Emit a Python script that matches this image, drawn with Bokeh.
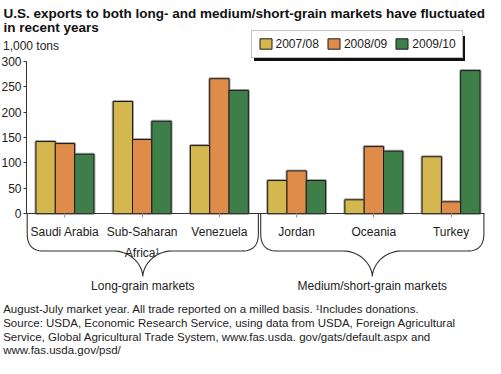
import numpy as np
from bokeh.plotting import figure
from bokeh.models import (Range1d, FixedTicker, Label, Legend, LegendItem,
                          BoxAnnotation, ColumnDataSource)
from bokeh.transform import dodge
from bokeh.embed import file_html
from bokeh.resources import INLINE

# ---------------- data ----------------
countries = ["Saudi Arabia", "Sub-Saharan\nAfrica\u00b9", "Venezuela", "Jordan", "Oceania", "Turkey"]
years = ["2007/08", "2008/09", "2009/10"]
v_2007_08 = [142, 221, 134, 65, 27, 112]
v_2008_09 = [138, 146, 266, 84, 132, 23]
v_2009_10 = [117, 182, 243, 65, 123, 282]
groups = ["Long-grain markets", "Medium/short-grain markets"]
y_ticks = [0, 50, 100, 150, 200, 250, 300]
colors = ["#D4B74F", "#DF8C4A", "#3E7F49"]

title_lines = ["U.S. exports to both long- and medium/short-grain markets have fluctuated",
               "in recent years"]
unit_text = "1,000 tons"
notes = ["August-July market year. All trade reported on a milled basis. \u00b9Includes donations.",
         "Source: USDA, Economic Research Service, using data from USDA, Foreign Agricultural",
         "Service, Global Agricultural Trade System, www.fas.usda. gov/gats/default.aspx and",
         "www.fas.usda.gov/psd/"]

# ---------------- layout (canvas pixels) ----------------
W, H = 485, 358
AX_L, AX_R, AX_T, AX_B = 26, 484, 61, 213      # plotting area of the bars
XR0, XR1 = -0.498, 5.433                       # category extent
KX = (AX_R - AX_L) / (XR1 - XR0)               # px per category unit
KY = (AX_B - AX_T) / 300.0                     # px per 1,000 tons
FONT = "Liberation Sans"
TXT = "11.5px"
LDY = 1.5                                      # text baseline correction


def dx(px):
    return XR0 + (px - AX_L) / KX


def dy(py):
    return (AX_B - py) / KY


def ty(py):
    return dy(py - LDY)


xpos = list(range(len(countries)))
src = ColumnDataSource(dict(x=xpos, a=v_2007_08, b=v_2008_09, c=v_2009_10))

p = figure(width=W, height=H, output_backend="svg", toolbar_location=None,
           x_range=Range1d(dx(0), dx(W)), y_range=Range1d(dy(H), dy(0)),
           min_border=0, outline_line_color=None)
p.xgrid.grid_line_color = None
p.ygrid.grid_line_color = None

bw = 0.25
renderers = []
for off, col in zip([-bw, 0, bw], ["a", "b", "c"]):
    p.vbar(x=dodge("x", off), top=col, width=bw, bottom=0, source=src,
           fill_color=None, line_color="#a8a8a8", line_width=3)
for off, col, color in zip([-bw, 0, bw], ["a", "b", "c"], colors):
    r = p.vbar(x=dodge("x", off), top=col, width=bw, bottom=0, source=src,
               fill_color=color, line_color="#1a1a1a", line_width=1)
    renderers.append(r)

# axes
ya = p.yaxis[0]
ya.fixed_location = XR0
ya.bounds = (0, 300)
ya.ticker = FixedTicker(ticks=y_ticks)
ya.axis_line_color = "#333333"
ya.major_tick_line_color = "#333333"
ya.major_tick_out = 3
ya.major_tick_in = 0
ya.minor_tick_line_color = None
ya.major_label_standoff = 2
ya.major_label_text_font = FONT
ya.major_label_text_font_size = "12px"
ya.major_label_text_color = "#222222"

xa = p.xaxis[0]
xa.fixed_location = 0
xa.bounds = (XR0, XR1)
xa.ticker = FixedTicker(ticks=xpos)
xa.major_label_overrides = {i: c for i, c in enumerate(countries)}
xa.axis_line_color = "#333333"
xa.major_tick_line_color = "#999999"
xa.major_tick_out = 4
xa.major_tick_in = 0
xa.minor_tick_line_color = None
xa.major_label_standoff = 7
xa.major_label_text_font = FONT
xa.major_label_text_font_size = "12px"
xa.major_label_text_color = "#222222"
xa.major_label_text_line_height = 1.5


# braces under the two market groups
def brace(x0, x1):
    xm = (x0 + x1) / 2
    y1, yc, yp = dy(AX_B + 20), dy(AX_B + 37.5), dy(AX_B + 63)
    r = 16 / KX
    depth = yp - yc
    t = np.linspace(0, 1, 16)
    xs, ys = [x0], [0.0]
    qx = (1 - t) ** 2 * x0 + 2 * (1 - t) * t * x0 + t ** 2 * (x0 + r)
    qy = (1 - t) ** 2 * y1 + 2 * (1 - t) * t * yc + t ** 2 * yc
    xs += list(qx); ys += list(qy)
    p0 = (xm - 29 / KX, yc)
    p1 = (xm - 13 / KX, yc)
    p2 = (xm - 0.5 / KX, yc + depth * 0.5)
    p3 = (xm, yp)
    cx = (1 - t) ** 3 * p0[0] + 3 * (1 - t) ** 2 * t * p1[0] + 3 * (1 - t) * t ** 2 * p2[0] + t ** 3 * p3[0]
    cy = (1 - t) ** 3 * p0[1] + 3 * (1 - t) ** 2 * t * p1[1] + 3 * (1 - t) * t ** 2 * p2[1] + t ** 3 * p3[1]
    xs += list(cx); ys += list(cy)
    mx = [2 * xm - v for v in xs[::-1]]
    my = ys[::-1]
    return xs + mx[1:], ys + my[1:], xm


brace_spans = [(-0.489, 2.505), (2.535, 5.425)]
for (b0, b1), g in zip(brace_spans, groups):
    bxs, bys, xm = brace(b0, b1)
    p.line(bxs, bys, line_color="#333333", line_width=1.1)
    p.add_layout(Label(x=xm, y=ty(AX_B + 74), text=g, text_font=FONT, text_font_size="12px",
                       text_color="#222222", text_align="center", text_baseline="alphabetic"))

# legend with drop shadow
p.add_layout(BoxAnnotation(left=dx(253.5), right=dx(464.5), top=dy(35.5), bottom=dy(60.5),
                           fill_color="#111111", fill_alpha=1, line_color=None))
legend = Legend(items=[LegendItem(label=y, renderers=[r]) for y, r in zip(years, renderers)],
                orientation="horizontal", location=(250.5, H - 57.5),
                glyph_width=15, glyph_height=13, label_height=13, label_standoff=3,
                padding=6, spacing=7, margin=0, border_line_color="#888888",
                label_text_font=FONT, label_text_font_size="12px", label_text_color="#222222",
                background_fill_color="white", background_fill_alpha=1)
p.add_layout(legend, "center")

# texts
p.add_layout(Label(x=dx(3), y=ty(14), text=title_lines[0], text_font=FONT, text_font_size="13.5px",
                   text_font_style="bold", text_color="#111111", text_baseline="alphabetic"))
p.add_layout(Label(x=dx(3), y=ty(28.7), text=title_lines[1], text_font=FONT, text_font_size="13.5px",
                   text_font_style="bold", text_color="#111111", text_baseline="alphabetic"))
p.add_layout(Label(x=dx(2.5), y=ty(46.5), text=unit_text, text_font=FONT, text_font_size="12px",
                   text_color="#222222", text_baseline="alphabetic"))
for note, Y in zip(notes, [310, 324, 337.5, 351]):
    p.add_layout(Label(x=dx(2.7), y=ty(Y), text=note, text_font=FONT, text_font_size=TXT,
                       text_color="#222222", text_baseline="alphabetic"))

open("out.html", "w").write(file_html(p, INLINE))
